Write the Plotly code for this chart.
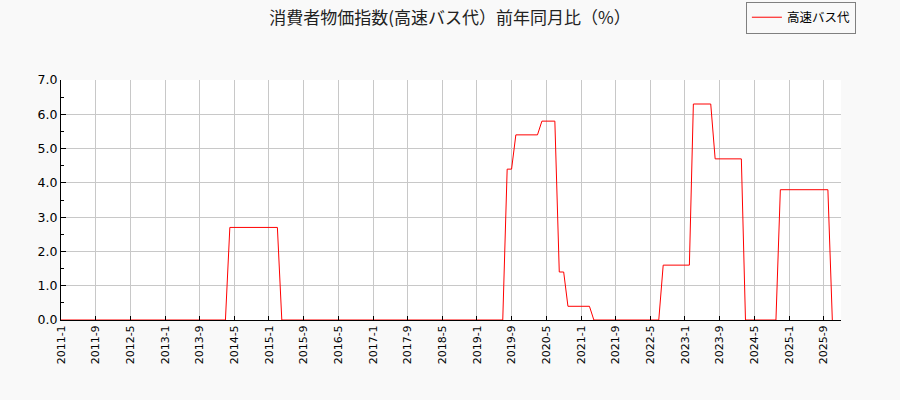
import pandas as pd
import plotly.graph_objects as go

# 月次データ 2011-1 〜 2025-11（前年同月比 %）
values = [
    0, 0, 0, 0, 0, 0, 0, 0, 0, 0, 0, 0,                        # 2011
    0, 0, 0, 0, 0, 0, 0, 0, 0, 0, 0, 0,                        # 2012
    0, 0, 0, 0, 0, 0, 0, 0, 0, 0, 0, 0,                        # 2013
    0, 0, 0, 2.7, 2.7, 2.7, 2.7, 2.7, 2.7, 2.7, 2.7, 2.7,      # 2014
    2.7, 2.7, 2.7, 0, 0, 0, 0, 0, 0, 0, 0, 0,                  # 2015
    0, 0, 0, 0, 0, 0, 0, 0, 0, 0, 0, 0,                        # 2016
    0, 0, 0, 0, 0, 0, 0, 0, 0, 0, 0, 0,                        # 2017
    0, 0, 0, 0, 0, 0, 0, 0, 0, 0, 0, 0,                        # 2018
    0, 0, 0, 0, 0, 0, 0, 4.4, 4.4, 5.4, 5.4, 5.4,              # 2019
    5.4, 5.4, 5.4, 5.8, 5.8, 5.8, 5.8, 1.4, 1.4, 0.4, 0.4, 0.4,  # 2020
    0.4, 0.4, 0.4, 0, 0, 0, 0, 0, 0, 0, 0, 0,                  # 2021
    0, 0, 0, 0, 0, 0, 0, 1.6, 1.6, 1.6, 1.6, 1.6,              # 2022
    1.6, 1.6, 6.3, 6.3, 6.3, 6.3, 6.3, 4.7, 4.7, 4.7, 4.7, 4.7,  # 2023
    4.7, 4.7, 0, 0, 0, 0, 0, 0, 0, 0, 3.8, 3.8,                # 2024
    3.8, 3.8, 3.8, 3.8, 3.8, 3.8, 3.8, 3.8, 3.8, 3.8, 0,       # 2025
]
dates = pd.date_range("2011-01-01", periods=len(values), freq="MS")

tick_labels = [
    "2011-1", "2011-9", "2012-5", "2013-1", "2013-9", "2014-5", "2015-1",
    "2015-9", "2016-5", "2017-1", "2017-9", "2018-5", "2019-1", "2019-9",
    "2020-5", "2021-1", "2021-9", "2022-5", "2023-1", "2023-9", "2024-5",
    "2025-1", "2025-9",
]
tick_vals = [pd.to_datetime(t, format="%Y-%m") for t in tick_labels]

fig = go.Figure()
fig.add_trace(go.Scatter(
    x=dates,
    y=values,
    mode="lines",
    name="高速バス代",
    line=dict(color="red", width=1),
))

fig.update_layout(
    width=900,
    height=400,
    paper_bgcolor="#f9f9f9",
    plot_bgcolor="white",
    margin=dict(l=61, r=59, t=80, b=80, autoexpand=False),
    font=dict(family="DejaVu Sans", color="black"),
    title=dict(
        text="消費者物価指数(高速バス代）前年同月比（%）",
        font=dict(family="Noto Sans CJK JP", size=17, color="#222"),
        x=0.5, xref="container", xanchor="center",
        y=0.955, yref="container", yanchor="middle",
    ),
    showlegend=True,
    legend=dict(
        xref="container", yref="container",
        x=0.951, y=0.996, xanchor="right", yanchor="top",
        bgcolor="#f9f9f9", bordercolor="#808080", borderwidth=1,
        font=dict(family="Noto Sans CJK JP", size=12.5),
        itemwidth=30,
    ),
)

fig.update_xaxes(
    range=["2011-01-01", "2026-01-01"],
    tickvals=tick_vals,
    ticktext=tick_labels,
    tickangle=-90,
    tickfont=dict(size=11),
    ticks="inside", ticklen=4, tickcolor="black",
    showline=True, linecolor="black", linewidth=1,
    showgrid=True, gridcolor="#c8c8c8", gridwidth=1,
    zeroline=False,
)
fig.update_yaxes(
    range=[0, 7],
    dtick=1,
    tickformat=".1f",
    tickfont=dict(size=12.5),
    ticks="inside", ticklen=5, tickcolor="black",
    minor=dict(dtick=0.5, ticks="inside", ticklen=3, tickcolor="black", showgrid=False),
    showline=True, linecolor="black", linewidth=1,
    showgrid=True, gridcolor="#c8c8c8", gridwidth=1,
    zeroline=False,
)

# ページ余白を消す
fig.write_html(
    "out.html",
    config={"displayModeBar": False},
    post_script="document.body.style.margin='0px';",
)
